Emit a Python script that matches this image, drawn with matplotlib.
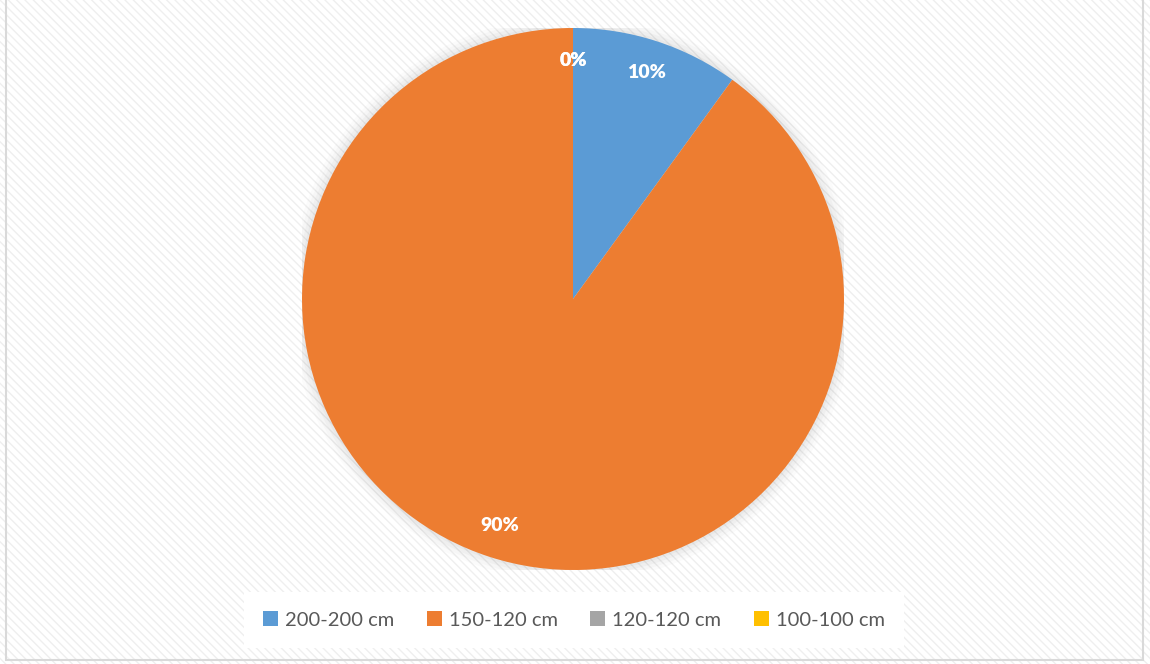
import matplotlib.pyplot as plt
from matplotlib.patches import Rectangle, Circle

# dados do gráfico
categorias = ['200-200 cm', '150-120 cm', '120-120 cm', '100-100 cm']
valores = [10, 90, 0, 0]
cores = ['#5b9bd5', '#ed7d31', '#a5a5a5', '#ffc000']

plt.rcParams['font.family'] = ['Lato', 'DejaVu Sans']

fig = plt.figure(figsize=(11.5, 6.64), dpi=100)
W, H = 1150, 664

# fundo com textura diagonal clara
bg = fig.add_axes([0, 0, 1, 1])
bg.set_xlim(0, W)
bg.set_ylim(H, 0)
bg.axis('off')
bg.add_patch(Rectangle((0, 0), W, H, facecolor='white', edgecolor='none'))
bg.add_patch(Rectangle((0, 0), W, H, facecolor='none', edgecolor='#efefef',
                       hatch='\\\\\\\\', linewidth=0))
# borda da área do gráfico
bg.add_patch(Rectangle((6, -5), 1137, 665, facecolor='none', edgecolor='#d9d9d9',
                       linewidth=1.5))

# eixo da pizza
cx, cy, r = 573, 299, 271
ax = fig.add_axes([(cx - r) / W, (H - cy - r) / H, 2 * r / W, 2 * r / H])

# sombra suave em volta da pizza
for i, a in enumerate([0.03, 0.04, 0.05, 0.06]):
    ax.add_patch(Circle((0, 0), 1.045 - i * 0.012, facecolor='#808080',
                        alpha=a, edgecolor='none', zorder=0))

wedges, textos, autotextos = ax.pie(
    valores, colors=cores, startangle=90, counterclock=False,
    autopct='%1.0f%%', pctdistance=0.88,
    wedgeprops=dict(edgecolor='none'),
    textprops=dict(color='white', fontsize=14, fontweight='heavy'))
ax.set_xlim(-1, 1)
ax.set_ylim(-1, 1)
ax.axis('off')

# legenda
leg = fig.legend(wedges, categorias, loc='center', ncol=4,
                 bbox_to_anchor=(574 / W, 1 - 620 / H),
                 frameon=True, facecolor='white', edgecolor='none',
                 fancybox=False, framealpha=1,
                 fontsize=14.5, handlelength=0.75, handleheight=0.75,
                 handletextpad=0.35, columnspacing=1.6,
                 borderpad=0.95, borderaxespad=0)
for t in leg.get_texts():
    t.set_color('#595959')

fig.savefig('out.png', dpi=100)
